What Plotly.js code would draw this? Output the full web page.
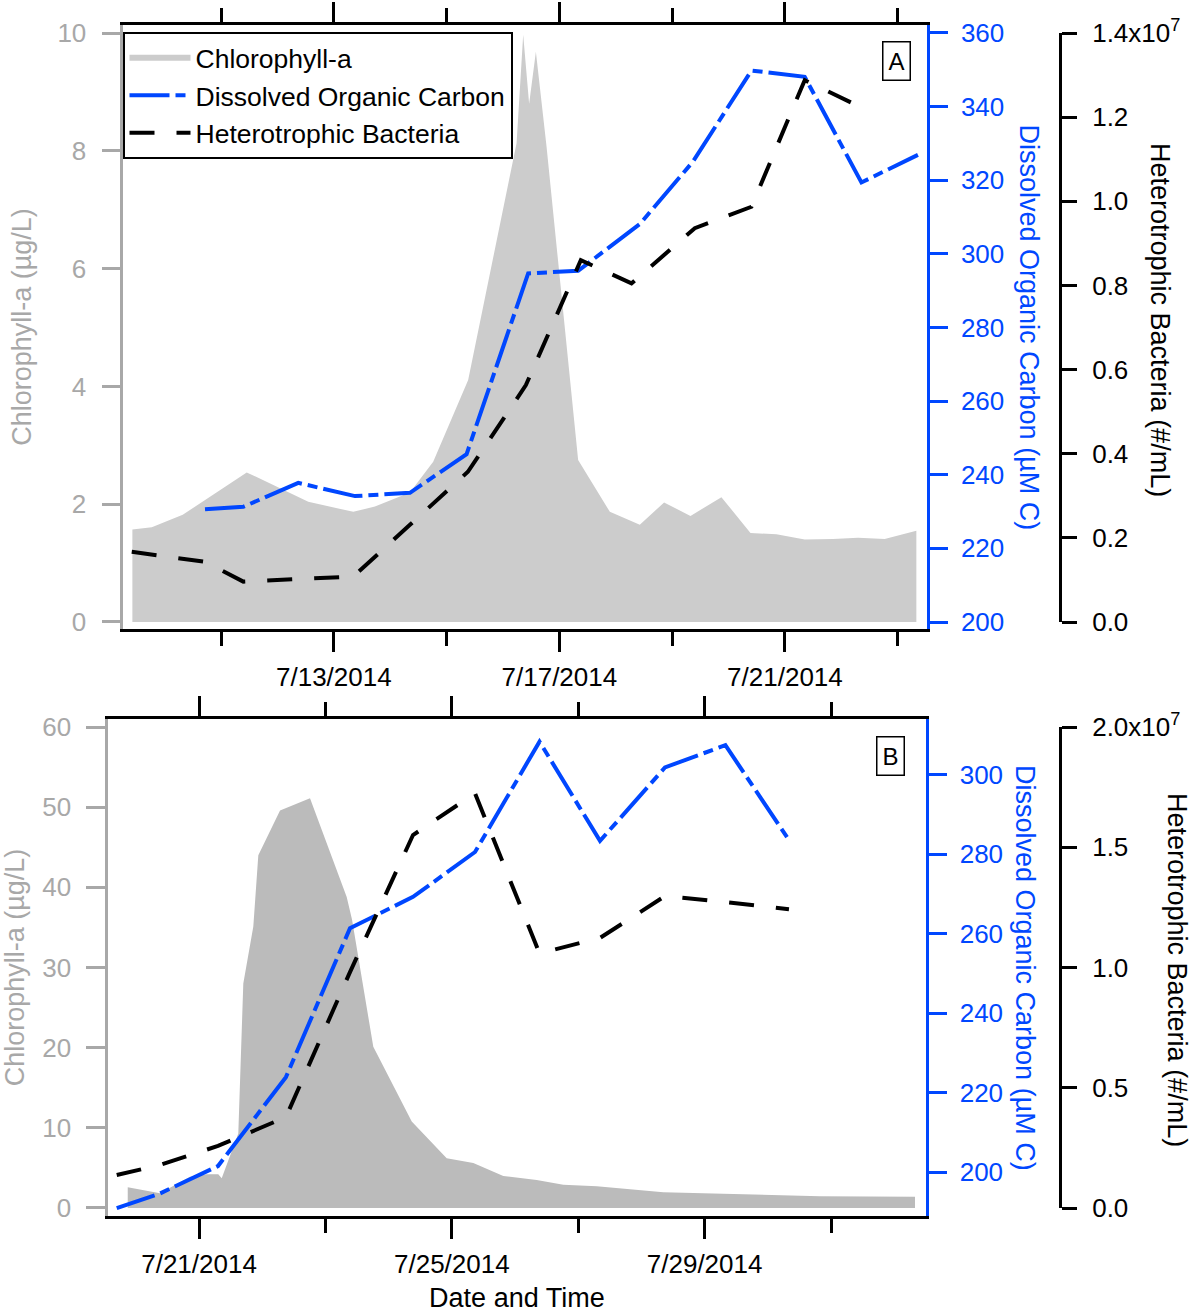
<!DOCTYPE html>
<html>
<head>
<meta charset="utf-8">
<script src="https://cdn.plot.ly/plotly-3.0.1.min.js"></script>
<style>html,body{margin:0;padding:0;background:#fff;}#chart{width:1191px;height:1316px;}</style>
</head>
<body>
<div id="chart"></div>
<script>
// ---------- Panel A data ----------
const chlA_time = ['2014-07-09 10:16','2014-07-09 18:32','2014-07-10 07:42','2014-07-11 10:56','2014-07-12 13:08','2014-07-13 08:17','2014-07-13 17:30','2014-07-14 08:24','2014-07-14 18:18','2014-07-15 09:11','2014-07-16 05:47','2014-07-16 08:36','2014-07-16 11:08','2014-07-16 14:00','2014-07-16 18:33','2014-07-17 07:59','2014-07-17 21:29','2014-07-18 10:14','2014-07-18 20:34','2014-07-19 07:48','2014-07-19 20:58','2014-07-20 09:20','2014-07-20 20:22','2014-07-21 08:25','2014-07-21 20:28','2014-07-22 07:06','2014-07-22 18:27','2014-07-23 07:56'];
const chlA_val = [1.57,1.61,1.82,2.54,2.04,1.87,1.96,2.20,2.72,4.11,8.13,9.97,8.80,9.68,8.07,2.75,1.87,1.65,2.03,1.80,2.12,1.51,1.49,1.40,1.41,1.43,1.41,1.55];

const docA_time = ['2014-07-10 17:11','2014-07-11 09:29','2014-07-12 08:53','2014-07-13 09:00','2014-07-14 08:24','2014-07-15 08:31','2014-07-16 10:43','2014-07-17 07:59','2014-07-18 10:14','2014-07-19 08:54','2014-07-20 09:45','2014-07-21 08:25','2014-07-22 08:33','2014-07-23 08:36'];
const docA_val = [230.6,231.3,237.8,234.2,235.1,245.6,294.7,295.4,308.1,325.1,349.8,348.1,319.4,326.9];

const bacA_time = ['2014-07-09 10:00','2014-07-10 17:11','2014-07-11 09:29','2014-07-12 08:53','2014-07-13 08:17','2014-07-14 08:24','2014-07-15 09:04','2014-07-16 09:45','2014-07-17 09:08','2014-07-18 06:42','2014-07-19 09:38','2014-07-20 09:45','2014-07-21 08:25','2014-07-22 09:13'];
const bacA_val = [1.67e6,1.43e6,0.96e6,1.02e6,1.08e6,2.31e6,3.57e6,5.63e6,8.60e6,8.05e6,9.36e6,9.87e6,12.88e6,12.21e6];

// ---------- Panel B data ----------
const chlB_time = ['2014-07-19 20:56','2014-07-20 09:11','2014-07-20 20:35','2014-07-21 02:55','2014-07-21 07:19','2014-07-21 08:37','2014-07-21 14:55','2014-07-21 16:49','2014-07-21 20:37','2014-07-21 22:31','2014-07-22 06:46','2014-07-22 18:09','2014-07-23 08:05','2014-07-23 10:06','2014-07-23 18:11','2014-07-24 08:47','2014-07-24 22:03','2014-07-25 08:10','2014-07-25 19:33','2014-07-26 08:14','2014-07-26 18:20','2014-07-27 07:02','2014-07-28 08:19','2014-07-29 10:54','2014-07-30 19:49','2014-08-01 07:54'];
const chlB_val = [2.58,1.85,3.9,4.2,4.2,3.7,9.3,28.0,35.1,44.0,49.6,51.1,38.8,36.0,20.1,10.8,6.2,5.6,4.0,3.5,2.9,2.7,1.95,1.75,1.45,1.4];

const docB_time = ['2014-07-19 16:45','2014-07-20 09:11','2014-07-21 07:13','2014-07-22 09:00','2014-07-23 09:20','2014-07-24 09:16','2014-07-25 08:49','2014-07-26 09:18','2014-07-27 08:17','2014-07-28 08:57','2014-07-29 07:54','2014-07-30 08:02'];
const docB_val = [190.9,194.6,201.5,223.9,261.4,269.3,280.6,308.4,283.4,301.9,307.5,283.6];

const bacB_time = docB_time;
const bacB_val = [0.137e7,0.179e7,0.258e7,0.378e7,0.981e7,1.551e7,1.724e7,1.059e7,1.123e7,1.297e7,1.272e7,1.242e7];

// ---------- tick labels ----------
const bacA_tickvals = [0,2e6,4e6,6e6,8e6,10e6,12e6,14e6];
const bacA_ticktext = ['0.0','0.2','0.4','0.6','0.8','1.0','1.2','1.4x10<sup>7</sup>'];
const bacB_tickvals = [0,0.5e7,1.0e7,1.5e7,2.0e7];
const bacB_ticktext = ['0.0','0.5','1.0','1.5','2.0x10<sup>7</sup>'];

// ---------- styling ----------
const W = 1191, H = 1316;
const px = v => v / W;
const py = v => 1 - v / H;
const FONT = 'Arial, "Liberation Sans", sans-serif';
const GRAY = '#a8a8a8', BLUE = '#0047ff', BLACK = '#000000';
const DAY = 86400000;
const TICKSIZE = 26, TITLESIZE = 27;

const traces = [
  {x: chlA_time, y: chlA_val, type: 'scatter', mode: 'none', fill: 'tozeroy', fillcolor: '#cccccc', name: 'Chlorophyll-a', xaxis: 'x', yaxis: 'y'},
  {x: docA_time, y: docA_val, type: 'scatter', mode: 'lines', line: {color: BLUE, width: 4, dash: '40px,6px,10px,6px'}, name: 'Dissolved Organic Carbon', xaxis: 'x', yaxis: 'y2'},
  {x: bacA_time, y: bacA_val, type: 'scatter', mode: 'lines', line: {color: BLACK, width: 4, dash: '25px,22px'}, name: 'Heterotrophic Bacteria', xaxis: 'x', yaxis: 'y3'},
  {x: chlB_time, y: chlB_val, type: 'scatter', mode: 'none', fill: 'tozeroy', fillcolor: '#bbbbbb', showlegend: false, xaxis: 'x2', yaxis: 'y4'},
  {x: docB_time, y: docB_val, type: 'scatter', mode: 'lines', line: {color: BLUE, width: 4, dash: '40px,6px,10px,6px'}, showlegend: false, xaxis: 'x2', yaxis: 'y5'},
  {x: bacB_time, y: bacB_val, type: 'scatter', mode: 'lines', line: {color: BLACK, width: 4, dash: '25px,22px'}, showlegend: false, xaxis: 'x2', yaxis: 'y6'}
];

function xAxis(domain, range, anchor, minorTick0, majorTick0) {
  return {
    domain: domain, range: range, anchor: anchor, type: 'date',
    showline: true, linecolor: BLACK, linewidth: 3, mirror: 'ticks',
    ticks: 'outside', ticklen: 20, tickwidth: 3, tickcolor: BLACK,
    tickmode: 'linear', tick0: majorTick0, dtick: 4 * DAY, tickformat: '%-m/%-d/%Y',
    minor: {ticks: 'outside', ticklen: 14, tickwidth: 3, tickcolor: BLACK, tickmode: 'linear', tick0: minorTick0, dtick: 2 * DAY, showgrid: false},
    ticklabelstandoff: 3,
    tickfont: {size: TICKSIZE, color: BLACK, family: FONT},
    showgrid: false, zeroline: false, fixedrange: true
  };
}

function rotTitle(text, x, y, color) {
  return {text: text, xref: 'paper', yref: 'paper', x: px(x), y: py(y), xanchor: 'center', yanchor: 'middle',
          textangle: 90, showarrow: false, font: {size: TITLESIZE, color: color, family: FONT}};
}
function boxLabel(text, x, y) {
  return {text: text, xref: 'paper', yref: 'paper', x: px(x), y: py(y), xanchor: 'center', yanchor: 'middle',
          showarrow: false, font: {size: 24, color: BLACK, family: FONT}, bordercolor: BLACK, borderwidth: 1.5, borderpad: 5, bgcolor: '#ffffff'};
}

const layout = {
  width: W, height: H,
  margin: {l: 0, r: 0, t: 0, b: 0, pad: 0},
  paper_bgcolor: '#ffffff', plot_bgcolor: 'rgba(0,0,0,0)',
  font: {family: FONT, size: TICKSIZE, color: BLACK},
  showlegend: true,
  legend: {
    x: px(122.5), y: py(32), xanchor: 'left', yanchor: 'top',
    bgcolor: '#ffffff', bordercolor: BLACK, borderwidth: 2,
    font: {size: 26.5, family: FONT, color: BLACK}, itemwidth: 61, tracegroupgap: 0
  },
  xaxis: xAxis([px(122.5), px(926.7)], ['2014-07-09 06:04', '2014-07-23 12:20'], 'y', '2014-07-11', '2014-07-13'),
  xaxis2: Object.assign(xAxis([px(108.3), px(925.5)], ['2014-07-19 13:33', '2014-08-01 11:53'], 'y4', '2014-07-23', '2014-07-21'),
    {title: {text: 'Date and Time', font: {size: TITLESIZE, family: FONT, color: BLACK}, standoff: 10}}),
  yaxis: {
    domain: [py(629), py(25)], range: [-0.119, 10.136], anchor: 'x', side: 'left',
    showline: true, linecolor: GRAY, linewidth: 3, ticks: 'outside', ticklen: 18, tickwidth: 3, tickcolor: GRAY,
    tickmode: 'linear', tick0: 0, dtick: 2, tickfont: {size: TICKSIZE, color: GRAY, family: FONT}, ticklabelstandoff: 10,
    title: {text: 'Chlorophyll-a (µg/L)', font: {size: TITLESIZE, color: GRAY, family: FONT}, standoff: 18},
    showgrid: false, zeroline: false, fixedrange: true
  },
  yaxis2: {
    overlaying: 'y', anchor: 'x', side: 'right', range: [198.10, 362.17],
    showline: true, linecolor: BLUE, linewidth: 3, ticks: 'outside', ticklen: 18, tickwidth: 3, tickcolor: BLUE,
    tickmode: 'linear', tick0: 200, dtick: 20, tickfont: {size: TICKSIZE, color: BLUE, family: FONT}, ticklabelstandoff: 8,
    showgrid: false, zeroline: false, fixedrange: true
  },
  yaxis3: {
    domain: [py(622), py(33)], range: [0, 1.4e7], anchor: 'free', position: px(1060), side: 'right',
    showline: true, linecolor: BLACK, linewidth: 3, ticks: 'outside', ticklen: 15, tickwidth: 3, tickcolor: BLACK,
    tickmode: 'array', tickvals: bacA_tickvals, ticktext: bacA_ticktext, tickfont: {size: TICKSIZE, color: BLACK, family: FONT}, ticklabelstandoff: 10,
    showgrid: false, zeroline: false, fixedrange: true
  },
  yaxis4: {
    domain: [py(1216), py(719)], range: [-1.0, 61.0], anchor: 'x2', side: 'left',
    showline: true, linecolor: GRAY, linewidth: 3, ticks: 'outside', ticklen: 19, tickwidth: 3, tickcolor: GRAY,
    tickmode: 'linear', tick0: 0, dtick: 10, tickfont: {size: TICKSIZE, color: GRAY, family: FONT}, ticklabelstandoff: 10,
    title: {text: 'Chlorophyll-a (µg/L)', font: {size: TITLESIZE, color: GRAY, family: FONT}, standoff: 18},
    showgrid: false, zeroline: false, fixedrange: true
  },
  yaxis5: {
    overlaying: 'y4', anchor: 'x2', side: 'right', range: [188.92, 314.1],
    showline: true, linecolor: BLUE, linewidth: 3, ticks: 'outside', ticklen: 18, tickwidth: 3, tickcolor: BLUE,
    tickmode: 'linear', tick0: 200, dtick: 20, tickfont: {size: TICKSIZE, color: BLUE, family: FONT}, ticklabelstandoff: 8,
    showgrid: false, zeroline: false, fixedrange: true
  },
  yaxis6: {
    domain: [py(1208), py(727)], range: [0, 2.0e7], anchor: 'free', position: px(1060), side: 'right',
    showline: true, linecolor: BLACK, linewidth: 3, ticks: 'outside', ticklen: 15, tickwidth: 3, tickcolor: BLACK,
    tickmode: 'array', tickvals: bacB_tickvals, ticktext: bacB_ticktext, tickfont: {size: TICKSIZE, color: BLACK, family: FONT}, ticklabelstandoff: 10,
    showgrid: false, zeroline: false, fixedrange: true
  },
  annotations: [
    boxLabel('A', 896.5, 61),
    boxLabel('B', 890, 755.5),
    rotTitle('Dissolved Organic Carbon (µM C)', 1028, 327.5, BLUE),
    rotTitle('Heterotrophic Bacteria (#/mL)', 1160, 320, BLACK),
    rotTitle('Dissolved Organic Carbon (µM C)', 1025, 968, BLUE),
    rotTitle('Heterotrophic Bacteria (#/mL)', 1177, 970, BLACK)
  ]
};

Plotly.newPlot('chart', traces, layout, {displayModeBar: false, staticPlot: true});
</script>
</body>
</html>
